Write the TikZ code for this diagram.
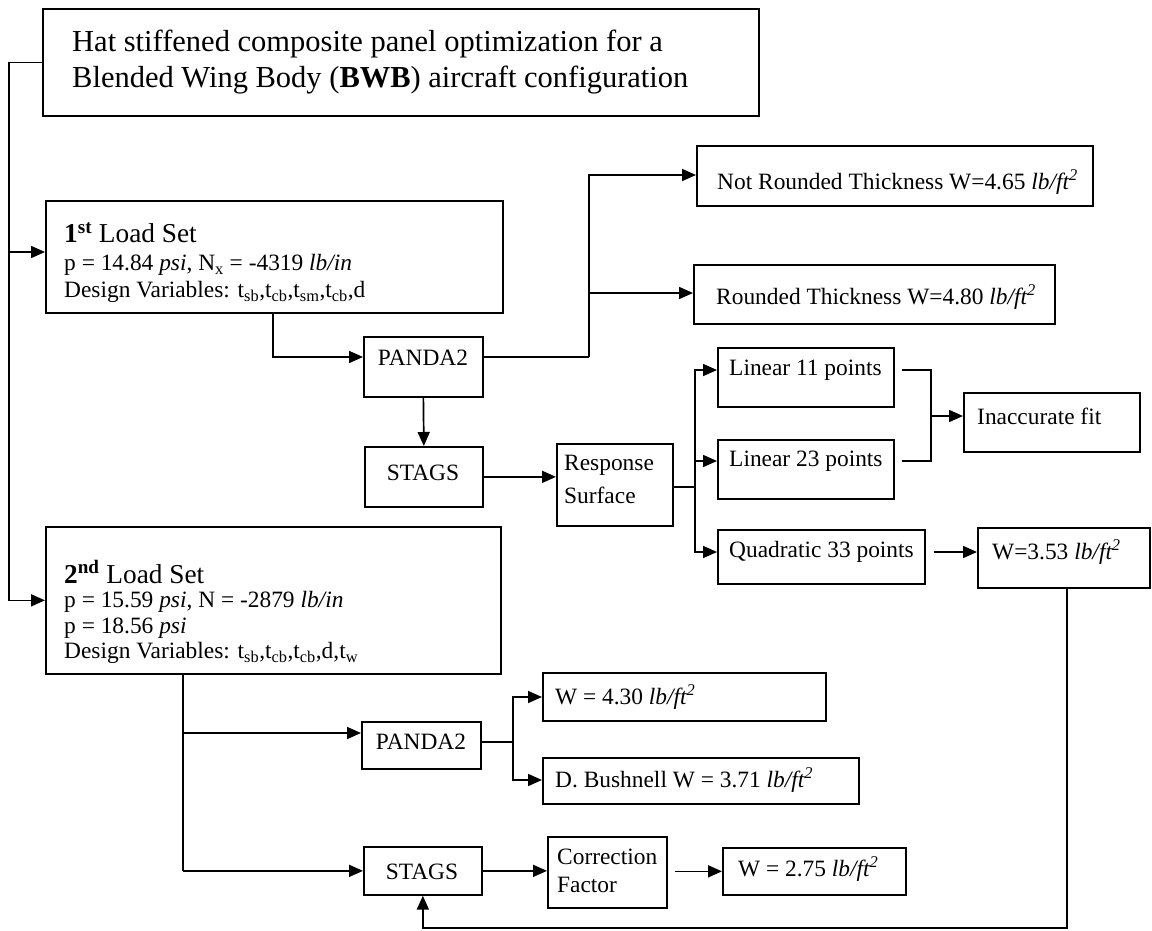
\documentclass[tikz,border=0pt]{standalone}
\usepackage{fontspec}
\setmainfont{Liberation Serif}
\usetikzlibrary{arrows.meta}
\tikzset{
  box/.style={draw, line width=1.7pt, anchor=north west, inner sep=0pt},
  ln/.style={line width=1.7pt},
  arr/.style={line width=1.7pt, -{Triangle[length=14pt,width=12pt]}},
  txt/.style={anchor=west, inner sep=0pt, font=\fontsize{23.4}{28}\selectfont},
  ctxt/.style={anchor=center, inner sep=0pt, font=\fontsize{23.4}{28}\selectfont},
  hd/.style={anchor=west, inner sep=0pt, font=\fontsize{27.3}{33}\selectfont},
  ttl/.style={anchor=west, inner sep=0pt, font=\fontsize{30.5}{36}\selectfont},
}
\newcommand{\lbft}{\textit{lb/ft\textsuperscript{2}}}
\begin{document}
\begin{tikzpicture}[x=1pt,y=-1pt]
\useasboundingbox (0,0) rectangle (1152,930);
% boxes
\node[box, minimum width=716pt, minimum height=107pt] (title) at (42,8) {};
\node[box, minimum width=457pt, minimum height=112pt] (l1) at (45,200) {};
\node[box, minimum width=119pt, minimum height=60pt] (pa) at (363,336) {};
\node[box, minimum width=118pt, minimum height=60pt] (sa) at (364,446) {};
\node[box, minimum width=396pt, minimum height=60pt] (nr) at (696,145) {};
\node[box, minimum width=361pt, minimum height=59pt] (rd) at (693,264) {};
\node[box, minimum width=116pt, minimum height=82pt] (rs) at (556,443) {};
\node[box, minimum width=176pt, minimum height=59pt] (la) at (717,347) {};
\node[box, minimum width=176pt, minimum height=59pt] (lb) at (717,439) {};
\node[box, minimum width=207pt, minimum height=54pt] (qd) at (717,529) {};
\node[box, minimum width=176pt, minimum height=59pt] (ia) at (963,392) {};
\node[box, minimum width=172pt, minimum height=60pt] (wq) at (977,527) {};
\node[box, minimum width=455pt, minimum height=147pt] (l2) at (45,526) {};
\node[box, minimum width=119pt, minimum height=47pt] (pb) at (361,721) {};
\node[box, minimum width=283pt, minimum height=48pt] (wp) at (542,672) {};
\node[box, minimum width=316pt, minimum height=46pt] (db) at (542,757) {};
\node[box, minimum width=118pt, minimum height=48pt] (sb) at (363,846) {};
\node[box, minimum width=119pt, minimum height=71pt] (cf) at (547,836) {};
\node[box, minimum width=183pt, minimum height=47pt] (ws) at (722,847) {};
% texts
\node[ttl] (title-a) at (72,44) {Hat stiffened composite panel optimization for a};
\node[ttl] (title-b) at (72,80) {Blended Wing Body (\textbf{BWB}) aircraft configuration};
\node[hd] (l1-a) at (64,233) {\textbf{1\textsuperscript{st}} Load Set};
\node[txt] (l1-b) at (64,265) {p = 14.84 \textit{psi}, N\textsubscript{x} = -4319 \textit{lb/in}};
\node[txt] (l1-c) at (64,292) {Design Variables: t\textsubscript{sb},t\textsubscript{cb},t\textsubscript{sm},t\textsubscript{cb},d};
\node[ctxt] (pa-t) at (423,358) {PANDA2};
\node[ctxt] (sa-t) at (423,473) {STAGS};
\node[txt] (nr-t) at (717,182) {Not Rounded Thickness W=4.65 \lbft};
\node[txt] (rd-t) at (716,297) {Rounded Thickness W=4.80 \lbft};
\node[txt] (rs-a) at (564,465) {Response};
\node[txt] (rs-b) at (564,495) {Surface};
\node[txt] (la-t) at (729,370) {Linear 11 points};
\node[txt] (lb-t) at (729,461) {Linear 23 points};
\node[txt] (qd-t) at (729,552) {Quadratic 33 points};
\node[txt] (ia-t) at (977,416) {Inaccurate fit};
\node[txt] (wq-t) at (992,552) {W=3.53 \lbft};
\node[hd] (l2-a) at (64,572) {\textbf{2\textsuperscript{nd}} Load Set};
\node[txt] (l2-b) at (64,602) {p = 15.59 \textit{psi}, N = -2879 \textit{lb/in}};
\node[txt] (l2-c) at (64,628) {p = 18.56 \textit{psi}};
\node[txt] (l2-d) at (64,653) {Design Variables: t\textsubscript{sb},t\textsubscript{cb},t\textsubscript{cb},d,t\textsubscript{w}};
\node[ctxt] (pb-t) at (421,742) {PANDA2};
\node[txt] (wp-t) at (555,697) {W = 4.30 \lbft};
\node[txt] (db-t) at (555,780) {D. Bushnell W = 3.71 \lbft};
\node[ctxt] (sb-t) at (422,872) {STAGS};
\node[txt] (cf-a) at (557,857) {Correction};
\node[txt] (cf-b) at (557,885) {Factor};
\node[txt] (ws-t) at (738,869) {W = 2.75 \lbft};
% junction coordinates
\coordinate (tr) at (9,252);
\coordinate (j1) at (273,312);
\coordinate (j2) at (589,357);
\coordinate (j3) at (695,487);
\coordinate (j4) at (931,416);
\coordinate (j5) at (1067,928);
\coordinate (j6) at (183,673);
\coordinate (j7) at (513,742);
% connectors
\draw[arr] (title.west) -| (tr) -- (l1.west |- tr);
\draw[arr] (tr) |- (l2.west);
\draw[arr] (j1) |- (pa.west |- j2);
\draw[ln] (pa.east |- j2) -- (j2);
\draw[arr] (j2) |- (nr.west |- 0,175);
\draw[arr] (j2) |- (rd.west |- 0,293);
\draw[arr] (pa.south) -- (sa.north);
\draw[arr] (sa.east) -- (rs.west |- sa.east);
\draw[ln] (rs.east |- j3) -- (j3);
\draw[arr] (j3) |- (la.west |- la-t.west);
\draw[arr] (j3) |- (lb.west |- lb-t.west);
\draw[arr] (j3) |- (qd.west |- qd-t.west);
\draw[ln] ([xshift=7pt]la.east |- la-t.west) -| (j4);
\draw[ln] ([xshift=7pt]lb.east |- lb-t.west) -| (j4);
\draw[arr] (j4) -- (ia.west |- j4);
\draw[arr] ([xshift=8pt]qd.east |- qd-t.west) -- (wq.west |- qd-t.west);
\draw[arr] (wq.south -| j5) -- (j5) -| (sb.south);
\draw[ln] (j6) -- (j6 |- sb.west);
\draw[arr] (j6 |- 0,733) -- (pb.west |- 0,733);
\draw[arr] (j6 |- sb.west) -- (sb.west);
\draw[ln] (pb.east |- j7) -- (j7);
\draw[arr] (j7) |- (wp.west |- wp-t.west);
\draw[arr] (j7) |- (db.west |- db-t.west);
\draw[arr] (sb.east) -- (cf.west |- sb.east);
\draw[arr] ([xshift=7pt]cf.east |- ws.west) -- (ws.west);
\end{tikzpicture}
\end{document}
